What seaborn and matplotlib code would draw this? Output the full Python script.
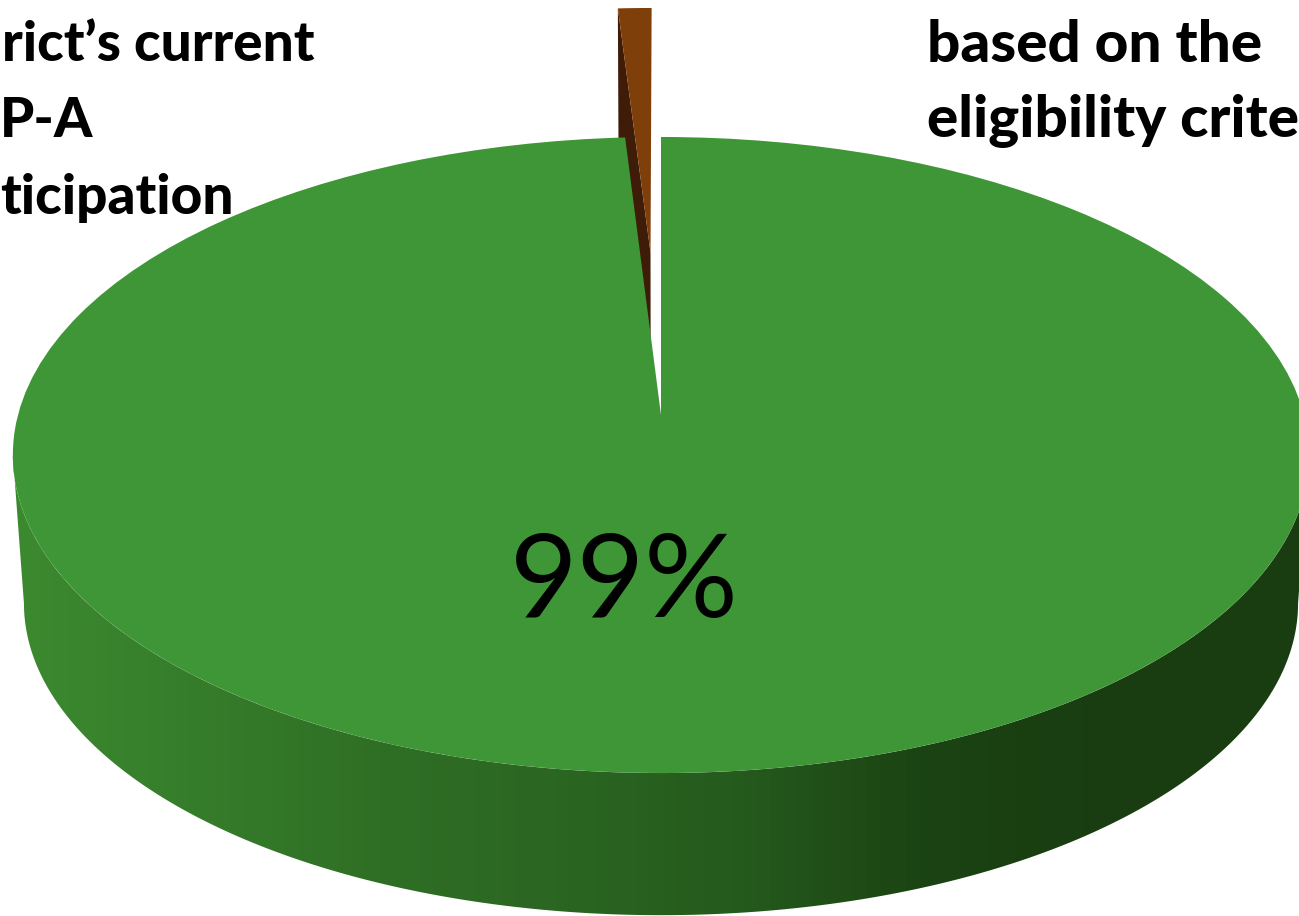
import numpy as np
import matplotlib
matplotlib.use("Agg")
import matplotlib.pyplot as plt
from matplotlib.colors import ListedColormap
from matplotlib.patches import Polygon
from matplotlib.transforms import Transform
import seaborn as sns

# Chart values
slice_names = ["Eligible", "Not eligible"]
slice_values = [99, 1]
slice_explode = [0.0, 0.555]

# Slide captions on either side of the pie
left_caption = ["rict\u2019s current", "P-A", "ticipation"]
right_caption = ["based on the", "eligibility crite"]

GREEN_TOP = "#3e9636"
BROWN_TOP = "#7f3f0b"
BROWN_SIDE = "#3f1c08"
WALL_STOPS = ["#3c8a30", "#367d2b", "#2f6f25", "#2b6622", "#255a1d", "#1b4313", "#193d11", "#193d11"]


class TiltedDisc(Transform):
    """Projects the flat pie plane onto the page with a mild perspective."""
    input_dims = 2
    output_dims = 2
    is_separable = False
    has_inverse = False

    def __init__(self, cx, cy, a, b, k):
        super().__init__()
        self.cx, self.cy, self.a, self.b, self.k = cx, cy, a, b, k

    def transform_non_affine(self, xy):
        xy = np.asarray(xy, dtype=float)
        u, v = xy[:, 0], -xy[:, 1]
        s = 1.0 / (1.0 - self.k * v)
        return np.column_stack([self.cx + self.a * u * s, self.cy + self.b * v * s])


KEEP = 0.1258
top_plane = TiltedDisc(661, 415, 643, 313, KEEP)
base_plane = TiltedDisc(661, 564, 632, 307, KEEP)

sns.set_theme(style="white")
fig = plt.figure(figsize=(12.99, 9.16), dpi=100, facecolor="white")
ax = fig.add_axes([0, 0, 1, 1])

wedges, _ = ax.pie(
    slice_values,
    explode=slice_explode,
    colors=[GREEN_TOP, BROWN_TOP],
    startangle=90,
    counterclock=False,
    wedgeprops={"linewidth": 0},
)
ax.set_aspect("auto")
ax.set_xlim(0, 1299)
ax.set_ylim(916, 0)
ax.axis("off")

green, brown = wedges
for wedge, z in ((green, 5), (brown, 3)):
    wedge.set_transform(top_plane + ax.transData)
    wedge.set_zorder(z)

# Cut face of the pulled-out slice, from its rim corner down to the base plane
cut = np.deg2rad(90 + 360 * slice_values[1] / sum(slice_values))
shift = slice_explode[1] * np.array([np.cos(np.deg2rad(90) + (cut - np.pi / 2) / 2),
                                     np.sin(np.deg2rad(90) + (cut - np.pi / 2) / 2)])
face = np.array([shift + [np.cos(cut), np.sin(cut)], shift])
face_page = np.vstack([top_plane.transform(face), base_plane.transform(face[::-1])])
ax.add_patch(Polygon(face_page, closed=True, facecolor=BROWN_SIDE, edgecolor="none", zorder=2))

# Outer wall of the disc, shaded from left to right
tan = np.arcsin(KEEP)
theta = np.linspace(np.pi + tan, 2 * np.pi - tan, 400)
rim = np.column_stack([np.cos(theta), np.sin(theta)])
outline = np.vstack([base_plane.transform(rim), top_plane.transform(rim[::-1])])
wall_colors = sns.blend_palette(WALL_STOPS, n_colors=96)
wall = ax.imshow(
    np.linspace(0, 1, 96)[None, :],
    cmap=ListedColormap(wall_colors),
    extent=(0, 1299, 916, 0),
    aspect="auto",
    interpolation="nearest",
    zorder=4,
)
wall.set_clip_path(Polygon(outline, closed=True, transform=ax.transData))
ax.set_xlim(0, 1299)
ax.set_ylim(916, 0)

ax.text(624, 585, f"{slice_values[0]}%", family="Lato", fontsize=84, color="black",
        ha="center", va="center", zorder=6)

for line, (x, y) in zip(left_caption, [(2, 45), (0, 121), (0, 198)]):
    ax.text(x, y, line, family="Lato", weight="black", fontsize=39.5, color="black",
            ha="left", va="center", zorder=1)
for line, y in zip(right_caption, [45, 121]):
    ax.text(927, y, line, family="Lato", weight="black", fontsize=42, color="black",
            ha="left", va="center", zorder=1)

fig.savefig("out.png", dpi=100, facecolor="white")
